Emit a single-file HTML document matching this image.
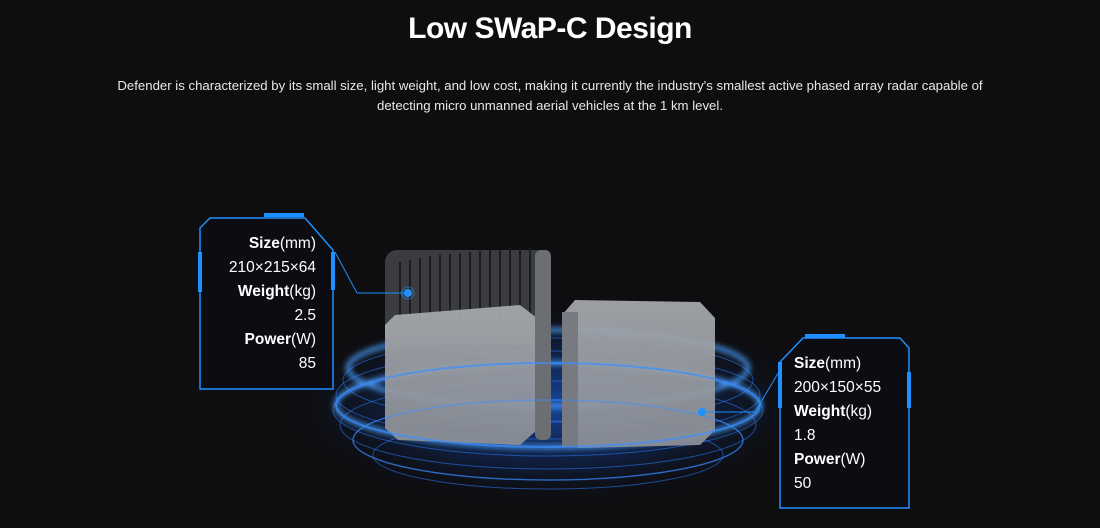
<!DOCTYPE html>
<html><head><meta charset="utf-8"><style>
html,body{margin:0;padding:0;background:#0e0e11;}
body{width:1100px;height:528px;position:relative;overflow:hidden;font-family:"Liberation Sans",Arial,sans-serif;color:#fff;}
h1{position:absolute;top:12px;left:0;width:1100px;text-align:center;margin:0;font-size:30px;font-weight:bold;letter-spacing:-0.5px}
p.d{position:absolute;top:76px;left:100px;width:900px;text-align:center;margin:0;font-size:13.2px;line-height:19.5px;color:#e8e8e8}
.t{position:absolute;font-size:15.5px;line-height:24px;}
.t b{font-weight:bold}
</style></head><body>
<svg width="1100" height="528" style="position:absolute;left:0;top:0">
<defs>
<radialGradient id="glow" cx="50%" cy="50%" r="50%">
<stop offset="0" stop-color="#1d6bff" stop-opacity="0.6"/>
<stop offset="0.6" stop-color="#1448b0" stop-opacity="0.25"/>
<stop offset="1" stop-color="#0e0e11" stop-opacity="0"/>
</radialGradient>
<linearGradient id="body" x1="0" y1="0" x2="0" y2="1">
<stop offset="0" stop-color="#a8abb0"/><stop offset="1" stop-color="#8d9096"/>
</linearGradient>
<filter id="bl"><feGaussianBlur stdDeviation="3"/></filter>
</defs>
<ellipse cx="550" cy="405" rx="270" ry="100" fill="url(#glow)"/>
<g fill="none" stroke="#2a7bff" stroke-opacity="0.55">
<ellipse cx="548" cy="380" rx="205" ry="42"/>
<ellipse cx="548" cy="395" rx="212" ry="44"/>
<ellipse cx="548" cy="410" rx="215" ry="46"/>
<ellipse cx="548" cy="425" rx="208" ry="44"/>
<ellipse cx="548" cy="440" rx="195" ry="40"/>
<ellipse cx="548" cy="455" rx="175" ry="34"/>
</g>
<g fill="none" stroke="#4aa0ff" stroke-width="4" filter="url(#bl)">
<ellipse cx="548" cy="368" rx="200" ry="38"/>
<ellipse cx="548" cy="405" rx="212" ry="42"/>
</g>
<!-- left device -->
<rect x="385" y="250" width="165" height="95" rx="12" fill="#3a3c40"/>
<g stroke="#1b1c1f" stroke-width="2">
<line x1="400" y1="262" x2="400" y2="320"/><line x1="410" y1="260" x2="410" y2="320"/><line x1="420" y1="258" x2="420" y2="320"/><line x1="430" y1="256" x2="430" y2="320"/><line x1="440" y1="255" x2="440" y2="320"/><line x1="450" y1="254" x2="450" y2="320"/><line x1="460" y1="253" x2="460" y2="320"/><line x1="470" y1="252" x2="470" y2="320"/><line x1="480" y1="251" x2="480" y2="320"/><line x1="490" y1="250" x2="490" y2="320"/><line x1="500" y1="249" x2="500" y2="320"/><line x1="510" y1="248" x2="510" y2="320"/><line x1="520" y1="248" x2="520" y2="320"/><line x1="530" y1="248" x2="530" y2="320"/>
</g>
<path d="M395 315 L520 305 L537 318 L537 430 L520 445 L398 440 L385 428 L385 325 Z" fill="url(#body)" opacity="0.92"/>
<rect x="535" y="250" width="16" height="190" rx="6" fill="#6b6e73"/>
<!-- right device -->
<path d="M575 300 L700 302 L715 318 L715 430 L700 445 L578 448 L562 435 L562 315 Z" fill="url(#body)" opacity="0.92"/>
<rect x="562" y="312" width="16" height="135" fill="#777a80"/>
<ellipse cx="548" cy="405" rx="212" ry="42" fill="none" stroke="#3c8dff" stroke-width="2" opacity="0.7"/>
<ellipse cx="548" cy="440" rx="195" ry="40" fill="none" stroke="#3c8dff" stroke-width="1.5" opacity="0.5"/>
<!-- left panel -->
<g stroke="#1e90ff" fill="none" stroke-width="1.5">
<path d="M200 228 L210 218 L305 218 L333 250 L333 389 L200 389 Z" fill="#0c0d12"/>
<line x1="335" y1="252" x2="357" y2="293" stroke-width="1"/>
<line x1="357" y1="293" x2="406" y2="293" stroke-width="1"/>
</g>
<g fill="#1e90ff">
<rect x="264" y="213" width="40" height="4"/>
<rect x="198" y="252" width="4" height="40"/>
<rect x="331" y="252" width="4" height="38"/>
<circle cx="408" cy="293" r="4"/>
</g>
<circle cx="408" cy="293" r="6" fill="none" stroke="#1e90ff" stroke-opacity="0.6"/>
<!-- right panel -->
<g stroke="#1e90ff" fill="none" stroke-width="1.5">
<path d="M803 338 L900 338 L909 348 L909 508 L780 508 L780 362 Z" fill="#0c0d12"/>
<line x1="704" y1="412" x2="755" y2="412" stroke-width="1"/>
<line x1="755" y1="412" x2="780" y2="370" stroke-width="1"/>
</g>
<g fill="#1e90ff">
<rect x="805" y="334" width="40" height="4"/>
<rect x="778" y="362" width="4" height="46"/>
<rect x="907" y="372" width="4" height="36"/>
<circle cx="702" cy="412" r="4"/>
</g>
</svg>
<h1>Low SWaP-C Design</h1>
<p class="d">Defender is characterized by its small size, light weight, and low cost, making it currently the industry's smallest active phased array radar capable of<br>detecting micro unmanned aerial vehicles at the 1 km level.</p>
<div class="t" style="left:200px;top:232px;width:116px;text-align:right"><b>Size</b>(mm)<br>210×215×64<br><b>Weight</b>(kg)<br>2.5<br><b>Power</b>(W)<br>85</div>
<div class="t" style="left:794px;top:352px;"><b>Size</b>(mm)<br>200×150×55<br><b>Weight</b>(kg)<br>1.8<br><b>Power</b>(W)<br>50</div>
</body></html>
